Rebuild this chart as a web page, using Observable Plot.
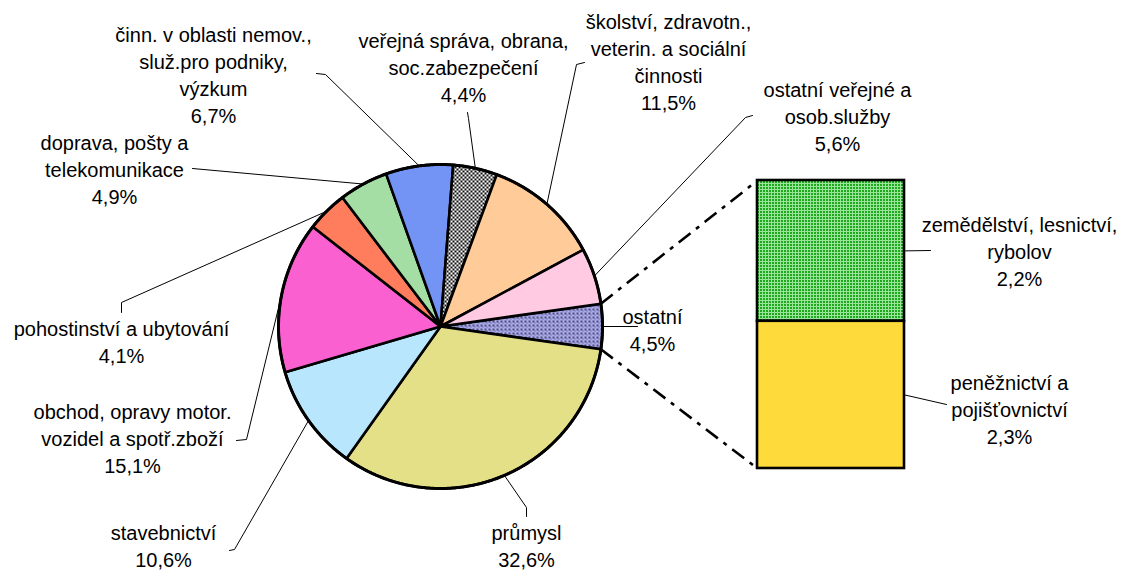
<!DOCTYPE html>
<html>
<head>
<meta charset="utf-8">
<script src="https://cdn.jsdelivr.net/npm/d3@7"></script>
<script src="https://cdn.jsdelivr.net/npm/@observablehq/plot@0.6"></script>
<style>
  html, body { margin: 0; padding: 0; background: #fff; }
</style>
</head>
<body>
<div id="chart"></div>
<script>
// ---------- data ----------
const pieCategories = [
  "ostatní",
  "průmysl",
  "stavebnictví",
  "obchod, opravy motor.\nvozidel a spotř.zboží",
  "pohostinství a ubytování",
  "doprava, pošty a\ntelekomunikace",
  "činn. v oblasti nemov.,\nsluž.pro podniky,\nvýzkum",
  "veřejná správa, obrana,\nsoc.zabezpečení",
  "školství, zdravotn.,\nveterin. a sociální\nčinnosti",
  "ostatní veřejné a\nosob.služby"
];
const pieValues = [4.5, 32.6, 10.6, 15.1, 4.1, 4.9, 6.7, 4.4, 11.5, 5.6];

const barCategories = ["zemědělství, lesnictví,\nrybolov", "peněžnictví a\npojišťovnictví"];
const barValues = [2.2, 2.3];

// ---------- styles ----------
const pieFills = ["url(#pOst)", "#e3e088", "#b8e6fd", "#fa60d0", "#ff7d5c",
                  "#a4dea4", "#7394f4", "url(#pGray)", "#ffcc99", "#ffcae2"];
const barFills = ["url(#pGreen)", "#fedb3a"];

// ---------- layout ----------
const W = 1136, H = 574;
const cx = 440, cy = 326, R = 162;
const barX0 = 757, barX1 = 904, barY0 = 180, barY1 = 468;

// label block centres and leader start points (label side), same order as pieCategories
const pieLabelLayout = [
  {x: 652, y: 328, lead: [[637, 326]]},
  {x: 526, y: 544, lead: [[526, 516], [526, 507]]},
  {x: 163, y: 544, lead: [[229, 550], [234, 549]]},
  {x: 132, y: 437, lead: [[236, 440], [246, 439]]},
  {x: 121, y: 340.5, lead: [[121, 312], [121, 302]]},
  {x: 114, y: 168, lead: [[192, 168]]},
  {x: 213, y: 73.5, lead: [[316, 73], [325, 74]]},
  {x: 463, y: 65.5, lead: [[467, 112], [468, 118]]},
  {x: 668, y: 60.5, lead: [[584, 62], [576, 64]]},
  {x: 837, y: 114.5, lead: [[752, 115], [745, 117]]}
];
const barLabelLayout = [
  {x: 1019, y: 250, lead: [930, 250]},
  {x: 1009, y: 407.5, lead: [946, 404]}
];

const fmt = v => v.toFixed(1).replace(".", ",") + "%";

// ---------- geometry from data ----------
const total = d3.sum(pieValues);
const startAngle = Math.PI / 2 - (pieValues[0] / total) * Math.PI; // "ostatní" centred at 3 o'clock
let acc = startAngle;
const slices = pieValues.map((v, i) => {
  const a0 = acc, a1 = acc + (v / total) * 2 * Math.PI;
  acc = a1;
  return {i, name: pieCategories[i], value: v, a0, a1, fill: pieFills[i]};
});
const edge = a => ({x: cx + R * Math.sin(a), y: cy - R * Math.cos(a)});

const marks = [];

// pie slices
for (const s of slices) {
  const pts = [{x: cx, y: cy}];
  const n = Math.max(4, Math.ceil((s.a1 - s.a0) / (Math.PI / 360)));
  for (let k = 0; k <= n; k++) pts.push(edge(s.a0 + (s.a1 - s.a0) * k / n));
  pts.push({x: cx, y: cy});
  marks.push(Plot.line(pts, {x: "x", y: "y", fill: s.fill, stroke: "#000",
    strokeWidth: 2.6, strokeLinejoin: "round", curve: "linear"}));
}
// outer outline
{
  const pts = [];
  for (let k = 0; k <= 720; k++) pts.push(edge(k / 720 * 2 * Math.PI));
  marks.push(Plot.line(pts, {x: "x", y: "y", stroke: "#000", strokeWidth: 3, curve: "linear"}));
}

// bar of "ostatní"
const barTotal = d3.sum(barValues);
const k = (barY1 - barY0) / barTotal;
let bacc = barY0;
const barSegs = barValues.map((v, i) => {
  const y1 = bacc, y2 = bacc + v * k;
  bacc = y2;
  return {name: barCategories[i], value: v, x1: barX0, x2: barX1, y1, y2, fill: barFills[i]};
});
for (const b of barSegs) {
  marks.push(Plot.rect([b], {x1: "x1", x2: "x2", y1: "y1", y2: "y2", fill: b.fill,
    stroke: "#000", strokeWidth: 2.6}));
}

// dash-dot connectors
const ost = slices[0];
const connectors = [
  {p: edge(ost.a0), q: {x: barX0, y: barY0}},
  {p: edge(ost.a1), q: {x: barX0, y: barY1}}
];
marks.push(Plot.link(connectors, {x1: d => d.p.x, y1: d => d.p.y, x2: d => d.q.x, y2: d => d.q.y,
  stroke: "#000", strokeWidth: 2.6, strokeDasharray: "15,7,4,7"}));

// leader lines for pie labels
slices.forEach((s, i) => {
  const L = pieLabelLayout[i];
  const pts = L.lead.map(([x, y]) => ({x, y}));
  pts.push(edge((s.a0 + s.a1) / 2));
  marks.push(Plot.line(pts, {x: "x", y: "y", stroke: "#000", strokeWidth: 1, curve: "linear"}));
});
// leader lines for bar labels
barSegs.forEach((b, i) => {
  const L = barLabelLayout[i];
  const pts = [{x: b.x2, y: (b.y1 + b.y2) / 2}, {x: L.lead[0], y: L.lead[1]}];
  marks.push(Plot.line(pts, {x: "x", y: "y", stroke: "#000", strokeWidth: 1, curve: "linear"}));
});

// labels
const labels = [
  ...slices.map((s, i) => ({x: pieLabelLayout[i].x, y: pieLabelLayout[i].y, text: s.name + "\n" + fmt(s.value)})),
  ...barSegs.map((b, i) => ({x: barLabelLayout[i].x, y: barLabelLayout[i].y, text: b.name + "\n" + fmt(b.value)}))
];
marks.push(Plot.text(labels, {x: "x", y: "y", text: "text", textAnchor: "middle", lineAnchor: "middle",
  lineHeight: 1.35, fontSize: 20, fill: "#000"}));

const chart = Plot.plot({
  width: W, height: H,
  margin: 0,
  x: {domain: [0, W], range: [0, W], axis: null},
  y: {domain: [0, H], range: [0, H], axis: null},
  style: {fontFamily: "'Liberation Sans', Arial, sans-serif", fontSize: "20px", background: "#fff", color: "#000"},
  marks
});

// patterns
const defs = d3.select(chart).insert("defs", ":first-child");
{
  const p = defs.append("pattern").attr("id", "pGray").attr("patternUnits", "userSpaceOnUse")
    .attr("width", 4).attr("height", 4);
  p.append("rect").attr("width", 4).attr("height", 4).attr("fill", "#fff");
  p.append("rect").attr("width", 2).attr("height", 2).attr("fill", "#111");
  p.append("rect").attr("x", 2).attr("y", 2).attr("width", 2).attr("height", 2).attr("fill", "#111");
}
{
  const p = defs.append("pattern").attr("id", "pOst").attr("patternUnits", "userSpaceOnUse")
    .attr("width", 4).attr("height", 4);
  p.append("rect").attr("width", 4).attr("height", 4).attr("fill", "#aaaaee");
  p.append("rect").attr("width", 2).attr("height", 2).attr("fill", "#50507a");
  p.append("rect").attr("x", 2).attr("y", 2).attr("width", 1).attr("height", 1).attr("fill", "#50507a");
}
{
  const p = defs.append("pattern").attr("id", "pGreen").attr("patternUnits", "userSpaceOnUse")
    .attr("width", 3).attr("height", 3);
  p.append("rect").attr("width", 3).attr("height", 3).attr("fill", "#1ea81e");
  p.append("rect").attr("width", 1).attr("height", 3).attr("fill", "#9be59b");
  p.append("rect").attr("width", 3).attr("height", 1).attr("fill", "#9be59b");
}

document.getElementById("chart").appendChild(chart);
</script>
</body>
</html>
